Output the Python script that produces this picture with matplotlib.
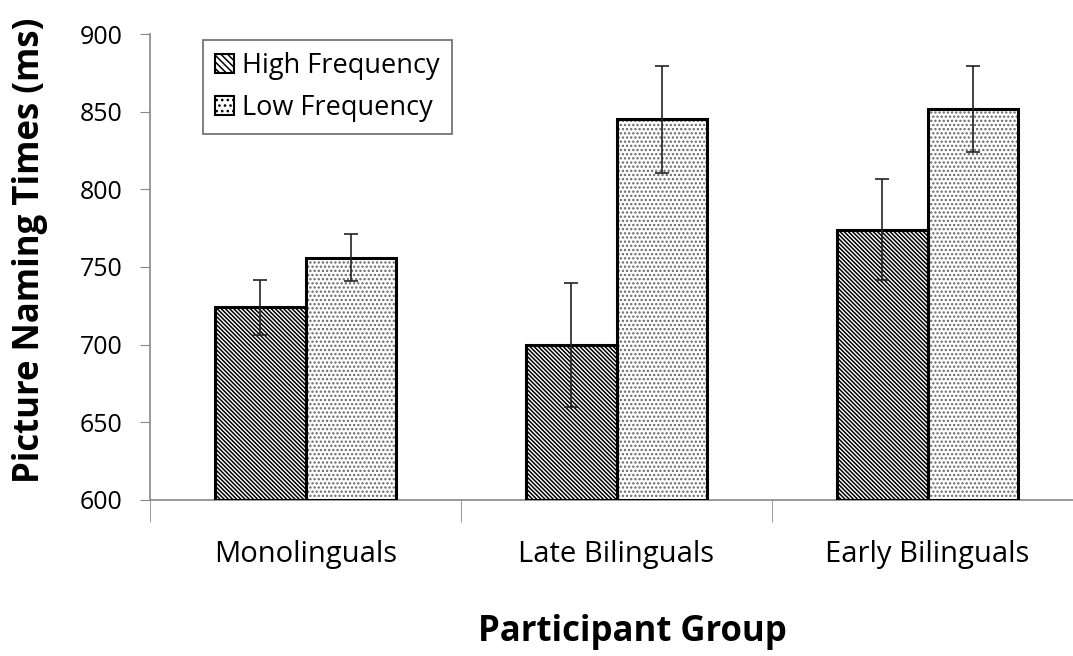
import matplotlib
matplotlib.use("Agg")
import matplotlib.pyplot as plt
import numpy as np
from matplotlib.patches import Patch

groups = ["Monolinguals", "Late Bilinguals", "Early Bilinguals"]
series = ["High Frequency", "Low Frequency"]
high_freq = [724, 700, 774]
low_freq = [756, 845, 852]
high_err = [17.5, 40, 32.5]
low_err = [15, 34.5, 27.7]

plt.rcParams['font.family'] = ['Open Sans', 'DejaVu Sans']
plt.rcParams['hatch.linewidth'] = 1.1

fig = plt.figure(figsize=(10.73, 6.56), dpi=100)
ax = fig.add_axes([150/1073, 1-500/656, 933/1073, 466/656])

x = np.arange(len(groups))
w = 0.29
hatches = ['\\' * 8, '....']
hatch_cols = ['#000000', '#666666']
vals = [high_freq, low_freq]
errs = [high_err, low_err]
offs = [-w/2, w/2]
for v, e, o, h, hc in zip(vals, errs, offs, hatches, hatch_cols):
    ax.bar(x + o, np.array(v) - 600, w, bottom=600, color='white', edgecolor=hc,
           hatch=h, linewidth=0, zorder=2)
    ax.bar(x + o, np.array(v) - 600, w, bottom=600, fill=False, edgecolor='black',
           linewidth=2.2, zorder=3)
    ax.errorbar(x + o, v, yerr=e, fmt='none', ecolor='#222222', elinewidth=1.2,
                capsize=5, capthick=1.2, zorder=4)

ax.set_ylim(600, 900)
ax.set_xlim(-0.5, 2.5)
ax.set_yticks(np.arange(600, 901, 50))
ax.tick_params(axis='y', labelsize=18, length=7, color='#888888', pad=13)
ax.set_xticks(x)
ax.set_xticklabels(groups, fontsize=21)
ax.tick_params(axis='x', length=0, pad=29)
ax.set_xticks([-0.5, 0.5, 1.5], minor=True)
ax.tick_params(axis='x', which='minor', length=16, color='#888888')
for s in ['top', 'right']:
    ax.spines[s].set_visible(False)
for s in ['left', 'bottom']:
    ax.spines[s].set_color('#888888')
    ax.spines[s].set_linewidth(1.2)

ax.set_ylabel("Picture Naming Times (ms)", fontsize=25, fontweight='bold')
ax.yaxis.set_label_coords(-120/933, 0.536)
ax.set_xlabel("Participant Group", fontsize=25, fontweight='bold')
ax.xaxis.set_label_coords(482/933, -132/466)
ax.xaxis.label.set_va('center')
ax.yaxis.label.set_va('center')

handles = [Patch(facecolor='white', edgecolor='black', hatch='\\' * 5, linewidth=1.5),
           Patch(facecolor='white', edgecolor='black', hatch='...', linewidth=1.5)]
leg = ax.legend(handles, series, loc='upper left', bbox_to_anchor=(53/933, 1-6/466),
                fontsize=19.5, frameon=True, fancybox=False, edgecolor='#444444',
                handlelength=0.7, handleheight=0.7, handletextpad=0.3,
                borderpad=0.45, labelspacing=0.5, borderaxespad=0)
leg.get_frame().set_linewidth(1.2)

fig.savefig("out.png", dpi=100)
